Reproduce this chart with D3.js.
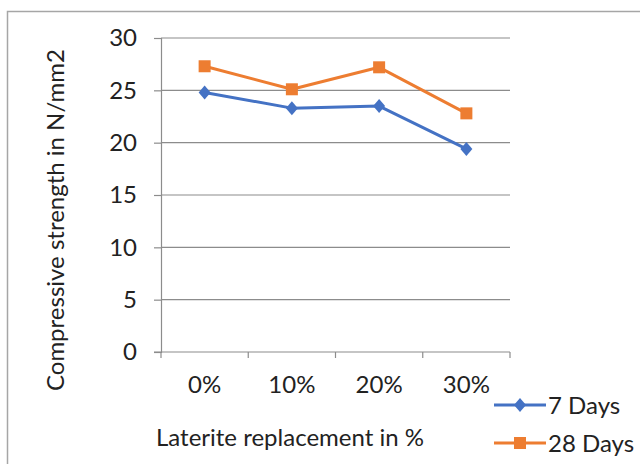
<!DOCTYPE html>
<html>
<head>
<meta charset="utf-8">
<script src="https://cdn.jsdelivr.net/npm/d3@7"></script>
<style>
  html, body { margin: 0; padding: 0; background: #fff; }
  svg { display: block; }
  text { font-family: Lato, "Open Sans", sans-serif; fill: #222; }
</style>
</head>
<body>
<svg id="chart" width="640" height="464"></svg>
<script>
// Replacement levels on the x axis
const categories = ["0%", "10%", "20%", "30%"];
// Compressive strength (N/mm2) per curing age
const days7 = [24.8, 23.3, 23.5, 19.4];
const days28 = [27.3, 25.1, 27.2, 22.8];
const yTicks = [0, 5, 10, 15, 20, 25, 30];
const seriesNames = ["7 Days", "28 Days"];

const series = [
  { name: seriesNames[0], values: days7, color: "#4472C4", marker: "diamond" },
  { name: seriesNames[1], values: days28, color: "#ED7D31", marker: "square" }
];

const svg = d3.select("#chart");
const FONT = 24;

// outer chart frame
svg.append("rect")
  .attr("x", 7.5).attr("y", 11.5)
  .attr("width", 640).attr("height", 470)
  .attr("fill", "none").attr("stroke", "#a6a6a6").attr("stroke-width", 1.5);

const plot = { left: 161, right: 510, top: 38, bottom: 352 };

const x = d3.scaleBand().domain(categories).range([plot.left, plot.right]);
const y = d3.scaleLinear().domain([0, 30]).range([plot.bottom, plot.top]);

// horizontal gridlines
svg.append("g")
  .selectAll("line").data(yTicks.filter(t => t > 0)).join("line")
  .attr("x1", plot.left).attr("x2", plot.right)
  .attr("y1", d => y(d)).attr("y2", d => y(d))
  .attr("stroke", "#8c8c8c").attr("stroke-width", 1.2);

// y axis
const yAxis = svg.append("g")
  .attr("transform", `translate(${plot.left},0)`)
  .call(d3.axisLeft(y).tickValues(yTicks).tickSize(7).tickPadding(17));
yAxis.select(".domain").attr("stroke", "#8c8c8c").attr("stroke-width", 1.2);
yAxis.selectAll(".tick line").attr("stroke", "#8c8c8c").attr("stroke-width", 1.2);
yAxis.selectAll(".tick text")
  .style("font-family", "Lato, 'Open Sans', sans-serif")
  .attr("font-size", FONT).attr("fill", "#222");

// x axis with boundary tick marks
const xAxisG = svg.append("g").attr("transform", `translate(0,${plot.bottom})`);
xAxisG.append("line")
  .attr("x1", plot.left - 7).attr("x2", plot.right)
  .attr("stroke", "#8c8c8c").attr("stroke-width", 1.2);
const bounds = categories.map(c => x(c)).concat([x(categories[categories.length - 1]) + x.bandwidth()]);
xAxisG.selectAll("line.tk").data(bounds).join("line").attr("class", "tk")
  .attr("x1", d => d).attr("x2", d => d).attr("y1", 0).attr("y2", 6)
  .attr("stroke", "#8c8c8c").attr("stroke-width", 1.2);
xAxisG.selectAll("text").data(categories).join("text")
  .attr("x", d => x(d) + x.bandwidth() / 2)
  .attr("y", 41)
  .attr("text-anchor", "middle")
  .attr("font-size", FONT)
  .text(d => d);

// axis titles
svg.append("text")
  .attr("transform", `translate(64,220) rotate(-90)`)
  .attr("text-anchor", "middle")
  .attr("font-size", FONT)
  .text("Compressive strength in N/mm2");
svg.append("text")
  .attr("x", 290).attr("y", 446)
  .attr("text-anchor", "middle")
  .attr("font-size", FONT)
  .text("Laterite replacement in %");

const line = d3.line()
  .x((d, i) => x(categories[i]) + x.bandwidth() / 2)
  .y(d => y(d));

function drawMarker(g, type, color) {
  if (type === "diamond") {
    g.append("path").attr("d", "M0,-7L6,0L0,7L-6,0Z").attr("fill", color);
  } else {
    g.append("rect").attr("x", -6).attr("y", -6).attr("width", 12).attr("height", 12).attr("fill", color);
  }
}

series.forEach(s => {
  svg.append("path")
    .datum(s.values)
    .attr("d", line)
    .attr("fill", "none")
    .attr("stroke", s.color)
    .attr("stroke-width", 3)
    .attr("stroke-linejoin", "round");
  s.values.forEach((v, i) => {
    const g = svg.append("g")
      .attr("transform", `translate(${x(categories[i]) + x.bandwidth() / 2},${y(v)})`);
    drawMarker(g, s.marker, s.color);
  });
});

// legend
const legend = svg.append("g");
series.forEach((s, i) => {
  const ly = 405 + i * 38;
  legend.append("line")
    .attr("x1", 494).attr("x2", 546).attr("y1", ly).attr("y2", ly)
    .attr("stroke", s.color).attr("stroke-width", 3);
  const g = legend.append("g").attr("transform", `translate(520,${ly})`);
  drawMarker(g, s.marker, s.color);
  legend.append("text")
    .attr("x", 548).attr("y", ly + 8.5)
    .attr("font-size", FONT)
    .text(s.name);
});
</script>
</body>
</html>
